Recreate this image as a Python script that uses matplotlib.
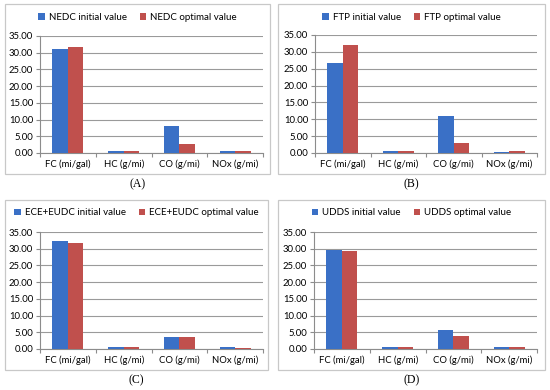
import matplotlib
matplotlib.use("Agg")
import matplotlib.pyplot as plt
from matplotlib.patches import Rectangle
import numpy as np

plt.rcParams['font.family'] = ['Lato', 'DejaVu Sans']

categories = ["FC (mi/gal)", "HC (g/mi)", "CO (g/mi)", "NOx (g/mi)"]
y_ticks = [0, 5, 10, 15, 20, 25, 30, 35]

nedc_initial = [31.1, 0.7, 8.1, 0.7]
nedc_optimal = [31.8, 0.7, 2.8, 0.5]
ftp_initial = [26.7, 0.5, 10.9, 0.3]
ftp_optimal = [32.0, 0.5, 3.1, 0.5]
ece_initial = [32.2, 0.7, 3.7, 0.6]
ece_optimal = [31.7, 0.7, 3.5, 0.4]
udds_initial = [29.7, 0.7, 5.8, 0.7]
udds_optimal = [29.4, 0.7, 3.8, 0.7]

cycles = ["NEDC", "FTP", "ECE+EUDC", "UDDS"]
captions = ["(A)", "(B)", "(C)", "(D)"]
initial_sets = [nedc_initial, ftp_initial, ece_initial, udds_initial]
optimal_sets = [nedc_optimal, ftp_optimal, ece_optimal, udds_optimal]

W, H = 550, 390
fig = plt.figure(figsize=(5.5, 3.9), dpi=100)
fig.patch.set_facecolor('white')

# layout in pixels (left, top, right, bottom)
boxes = [(5, 4, 270, 174), (278, 4, 545, 174), (5, 200, 268, 370), (278, 200, 545, 370)]
plots = [(40, 36, 263, 153), (315, 35, 537, 153), (40, 232, 263, 349), (314, 232, 537, 349)]
caption_y = [184, 184, 380, 380]

c_init = '#3A70C6'
c_opt = '#C0504D'
grid_c = '#9a9a9a'
axis_c = '#8c8c8c'

def fx(px):
    return px / W

def fy(py):
    return 1 - py / H

for i in range(4):
    bl, bt, br, bb = boxes[i]
    fig.patches.append(Rectangle((fx(bl), fy(bb)), fx(br - bl), (bb - bt) / H,
                                 transform=fig.transFigure, fill=False,
                                 edgecolor='#c8c8c8', linewidth=0.9))
    pl, pt, pr, pb = plots[i]
    ax = fig.add_axes([fx(pl), fy(pb), fx(pr - pl), (pb - pt) / H])
    x = np.arange(len(categories))
    w = 0.28
    ax.bar(x - w / 2, initial_sets[i], w, color=c_init, label=f"{cycles[i]} initial value", zorder=3)
    ax.bar(x + w / 2, optimal_sets[i], w, color=c_opt, label=f"{cycles[i]} optimal value", zorder=3)
    ax.set_xlim(-0.5, 3.5)
    ax.set_ylim(0, 35)
    ax.set_yticks(y_ticks)
    ax.set_yticklabels([f"{t:.2f}" for t in y_ticks], fontsize=6.8)
    ax.set_xticks(x)
    ax.set_xticklabels(categories, fontsize=6.8)
    ax.set_xticks(np.arange(-0.5, 4.0, 1.0), minor=True)
    ax.tick_params(axis='x', which='major', length=0, pad=5)
    ax.tick_params(axis='x', which='minor', length=3, color=axis_c, width=0.8)
    ax.tick_params(axis='y', length=3, color=axis_c, width=0.8, pad=2)
    ax.yaxis.grid(True, color=grid_c, linewidth=0.8, zorder=0)
    ax.set_axisbelow(True)
    for s in ['top', 'right']:
        ax.spines[s].set_visible(False)
    for s in ['left', 'bottom']:
        ax.spines[s].set_color(axis_c)
        ax.spines[s].set_linewidth(0.8)
    ax.set_facecolor('none')
    cx = (bl + br) / 2
    fig.legend(*ax.get_legend_handles_labels(), loc='center', ncol=2,
               bbox_to_anchor=(fx(cx), fy(bt + 13)), frameon=False, fontsize=7.0,
               handlelength=0.7, handleheight=0.7, handletextpad=0.4, columnspacing=1.3,
               borderaxespad=0, borderpad=0)
    fig.text(fx(cx), fy(caption_y[i]), captions[i], ha='center', va='center',
             fontsize=8.5, family='Liberation Serif')

fig.savefig('out.png', dpi=100)
